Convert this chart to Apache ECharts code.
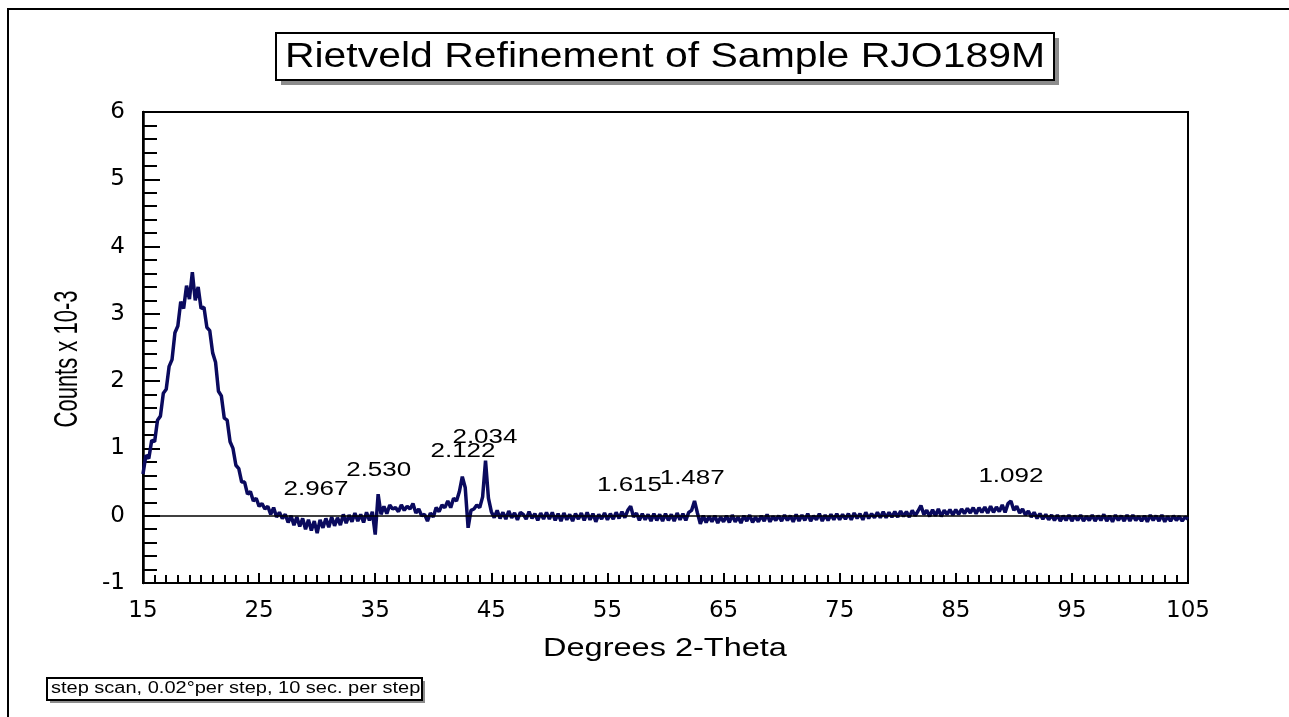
<!DOCTYPE html>
<html>
<head>
<meta charset="utf-8">
<script src="https://cdn.jsdelivr.net/npm/echarts@6/dist/echarts.min.js"></script>
<style>html,body{margin:0;padding:0;background:#fff;}#c{width:1289px;height:717px;}</style>
</head>
<body>
<div id="c"></div>
<script>
// Scan grid: 2-theta from 15 to 105 degrees, one reading every 0.25 degrees
const SCAN_START = 15;
const SCAN_STEP = 0.25;
// Counts x 10^-3 (noisy band, alternating top/bottom of the band)
const counts = [
  0.62, 0.90, 0.85, 1.12, 1.10, 1.42, 1.48, 1.82, 1.88, 2.22, 2.32, 2.72, 2.82, 3.18, 3.08, 3.42, 3.22, 3.62, 3.20, 3.40,
  3.08, 3.10, 2.80, 2.75, 2.42, 2.28, 1.85, 1.78, 1.45, 1.42, 1.10, 1.00, 0.75, 0.70, 0.50, 0.50, 0.32, 0.36, 0.22, 0.26,
  0.14, 0.18, 0.10, 0.14, 0.02, 0.12, -0.02, 0.05, -0.04, 0.02, -0.10, 0.00, -0.14, -0.02, -0.16, -0.04, -0.20, -0.06, -0.22, -0.08,
  -0.26, -0.06, -0.18, -0.04, -0.17, -0.02, -0.15, -0.03, -0.14, 0.02, -0.11, 0.01, -0.09, 0.04, -0.08, 0.02, -0.10, 0.05, -0.07, 0.06,
  -0.28, 0.32, 0.02, 0.14, 0.03, 0.16, 0.10, 0.12, 0.06, 0.16, 0.08, 0.14, 0.10, 0.18, 0.04, 0.10, 0.00, 0.02, -0.08, 0.04,
  -0.02, 0.12, 0.06, 0.16, 0.12, 0.22, 0.12, 0.26, 0.22, 0.36, 0.58, 0.42, -0.18, 0.08, 0.10, 0.16, 0.12, 0.28, 0.82, 0.26,
  0.06, -0.03, 0.08, -0.04, 0.05, -0.05, 0.07, -0.03, 0.04, -0.06, 0.05, 0.02, -0.05, 0.06, -0.04, 0.03, -0.07, 0.04, -0.05, 0.05,
  -0.05, 0.05, -0.07, 0.03, -0.08, 0.04, -0.06, 0.02, -0.08, 0.03, -0.05, 0.04, -0.07, 0.05, -0.06, 0.03, -0.09, 0.02, -0.05, 0.04,
  -0.06, 0.03, -0.05, 0.05, -0.04, 0.06, -0.03, 0.08, 0.14, -0.02, 0.04, -0.07, 0.03, -0.06, 0.02, -0.08, 0.03, -0.07, 0.02, -0.08,
  0.03, -0.07, 0.02, -0.08, 0.04, -0.06, 0.03, -0.07, 0.05, 0.08, 0.22, 0.04, -0.12, 0.00, -0.10, -0.01, -0.09, 0.00, -0.11, -0.02,
  -0.09, 0.00, -0.10, 0.01, -0.09, -0.02, -0.11, 0.00, -0.08, 0.01, -0.10, -0.02, -0.09, 0.00, -0.08, 0.02, -0.09, -0.01, -0.07, 0.00,
  -0.08, 0.01, -0.07, 0.00, -0.09, 0.02, -0.08, 0.01, -0.07, 0.03, -0.08, 0.00, -0.06, 0.03, -0.08, 0.01, -0.07, 0.02, -0.06, 0.03,
  -0.06, 0.02, -0.05, 0.03, -0.06, 0.04, -0.04, 0.03, -0.06, 0.05, -0.04, 0.03, -0.03, 0.05, -0.03, 0.06, -0.03, 0.05, -0.02, 0.06,
  -0.02, 0.07, -0.01, 0.06, -0.02, 0.08, 0.00, 0.07, 0.15, 0.02, 0.08, -0.01, 0.09, 0.00, 0.10, -0.01, 0.08, 0.02, 0.09, 0.01,
  0.09, 0.02, 0.10, 0.03, 0.11, 0.04, 0.12, 0.03, 0.12, 0.05, 0.13, 0.04, 0.14, 0.05, 0.13, 0.06, 0.16, 0.05, 0.18, 0.22,
  0.08, 0.14, 0.04, 0.10, 0.01, 0.07, -0.02, 0.05, -0.04, 0.03, -0.05, 0.02, -0.06, 0.01, -0.07, 0.01, -0.08, 0.00, -0.07, 0.01,
  -0.08, 0.00, -0.07, 0.01, -0.08, -0.01, -0.07, 0.01, -0.08, 0.00, -0.07, 0.02, -0.08, 0.00, -0.09, 0.01, -0.07, 0.00, -0.08, 0.01,
  -0.08, 0.01, -0.07, -0.01, -0.08, 0.00, -0.09, 0.01, -0.07, 0.00, -0.08, 0.01, -0.09, -0.01, -0.08, 0.00, -0.07, -0.01, -0.08, -0.02,
  -0.05
];
const twoTheta = counts.map((_, i) => +(SCAN_START + i * SCAN_STEP).toFixed(2));

// Peak annotations (d-spacings) and the centre of each label, in data units
const peakD = ['2.967', '2.530', '2.122', '2.034', '1.615', '1.487', '1.092'];
const peakLabelX = [29.9, 35.3, 42.56, 44.45, 56.9, 62.3, 89.75];
const peakLabelY = [0.39, 0.67, 0.95, 1.16, 0.45, 0.55, 0.58];

// Axis settings
const X_MIN = 15, X_MAX = 105, X_STEP = 10;
const Y_MIN = -1, Y_MAX = 6, Y_STEP = 1;

const TITLE = 'Rietveld Refinement of Sample RJO189M';
const X_NAME = 'Degrees 2-Theta';
const Y_NAME = 'Counts x 10-3';
const NOTE = 'step scan, 0.02\u00B0per step, 10 sec. per step';

const FONT = '"Liberation Sans", Arial, sans-serif';
const TICK_FONT = '"DejaVu Sans", sans-serif';

const baseGraphic = [
  {type: 'polyline', shape: {points: [[8, 717], [8, 9], [1289, 9]]}, style: {stroke: '#000', lineWidth: 2, fill: null}},
  {type: 'rect', shape: {x: 281, y: 38, width: 778, height: 47}, style: {fill: '#8c8c8c'}},
  {type: 'rect', shape: {x: 276, y: 33, width: 778, height: 47}, style: {fill: '#fff', stroke: '#000', lineWidth: 2}},
  {type: 'text', x: 665, y: 57, scaleX: 1.17, style: {text: TITLE, fontSize: 35, fontFamily: FONT, fill: '#000', align: 'center', verticalAlign: 'middle'}},
  {type: 'text', x: 665, y: 649, scaleX: 1.25, style: {text: X_NAME, fontSize: 26, fontFamily: FONT, fill: '#000', align: 'center', verticalAlign: 'middle'}},
  {type: 'text', x: 68, y: 359, rotation: Math.PI / 2, scaleY: 1.55, style: {text: Y_NAME, fontSize: 22, fontFamily: FONT, fill: '#000', align: 'center', verticalAlign: 'middle'}},
  {type: 'rect', shape: {x: 50, y: 681, width: 375, height: 22}, style: {fill: '#8c8c8c'}},
  {type: 'rect', shape: {x: 47, y: 678, width: 375, height: 22}, style: {fill: '#fff', stroke: '#000', lineWidth: 2}},
  {type: 'text', x: 51, y: 689, scaleX: 1.25, style: {text: NOTE, fontSize: 16, fontFamily: FONT, fill: '#000', align: 'left', verticalAlign: 'middle'}}
];

const chart = echarts.init(document.getElementById('c'), null, {renderer: 'canvas'});
chart.setOption({
  animation: false,
  backgroundColor: '#fff',
  grid: {left: 143, right: 101, top: 112, bottom: 134, show: true, borderColor: '#000', borderWidth: 2, backgroundColor: 'transparent'},
  xAxis: {
    type: 'value', min: X_MIN, max: X_MAX, interval: X_STEP,
    axisLine: {show: true, onZero: false, lineStyle: {color: '#000', width: 2}},
    axisTick: {show: true, inside: true, length: 10, lineStyle: {color: '#000', width: 2}},
    minorTick: {show: true, splitNumber: 10, length: 8, lineStyle: {color: '#000', width: 2}},
    axisLabel: {color: '#000', fontSize: 23, fontFamily: TICK_FONT, margin: 17},
    splitLine: {show: false}
  },
  yAxis: {
    type: 'value', min: Y_MIN, max: Y_MAX, interval: Y_STEP,
    axisLine: {show: true, onZero: false, lineStyle: {color: '#000', width: 2.5}},
    axisTick: {show: true, inside: true, length: 17, lineStyle: {color: '#000', width: 2}},
    minorTick: {show: true, splitNumber: 5, length: 14, lineStyle: {color: '#000', width: 2}},
    axisLabel: {color: '#000', fontSize: 23, fontFamily: TICK_FONT, margin: 18},
    splitLine: {show: false}
  },
  series: [
    {
      type: 'line', name: 'zero', data: [], z: 1, silent: true,
      markLine: {silent: true, symbol: 'none', label: {show: false}, lineStyle: {color: '#000', width: 1.5, type: 'solid'}, data: [{yAxis: 0}]}
    },
    {
      type: 'line', name: 'observed', z: 3,
      data: twoTheta.map((x, i) => [x, counts[i]]),
      showSymbol: false, symbol: 'none',
      lineStyle: {color: '#0a0a5e', width: 3.5},
      silent: true
    }
  ],
  graphic: baseGraphic
});

// Peak labels placed through the chart's own axes
const peakTexts = peakD.map((d, i) => {
  const p = chart.convertToPixel({gridIndex: 0}, [peakLabelX[i], peakLabelY[i]]);
  return {type: 'text', x: p[0], y: p[1], scaleX: 1.3, z: 10,
    style: {text: d, fontSize: 20, fontFamily: FONT, fill: '#000', align: 'center', verticalAlign: 'middle'}};
});
chart.setOption({graphic: baseGraphic.concat(peakTexts)});
</script>
</body>
</html>
